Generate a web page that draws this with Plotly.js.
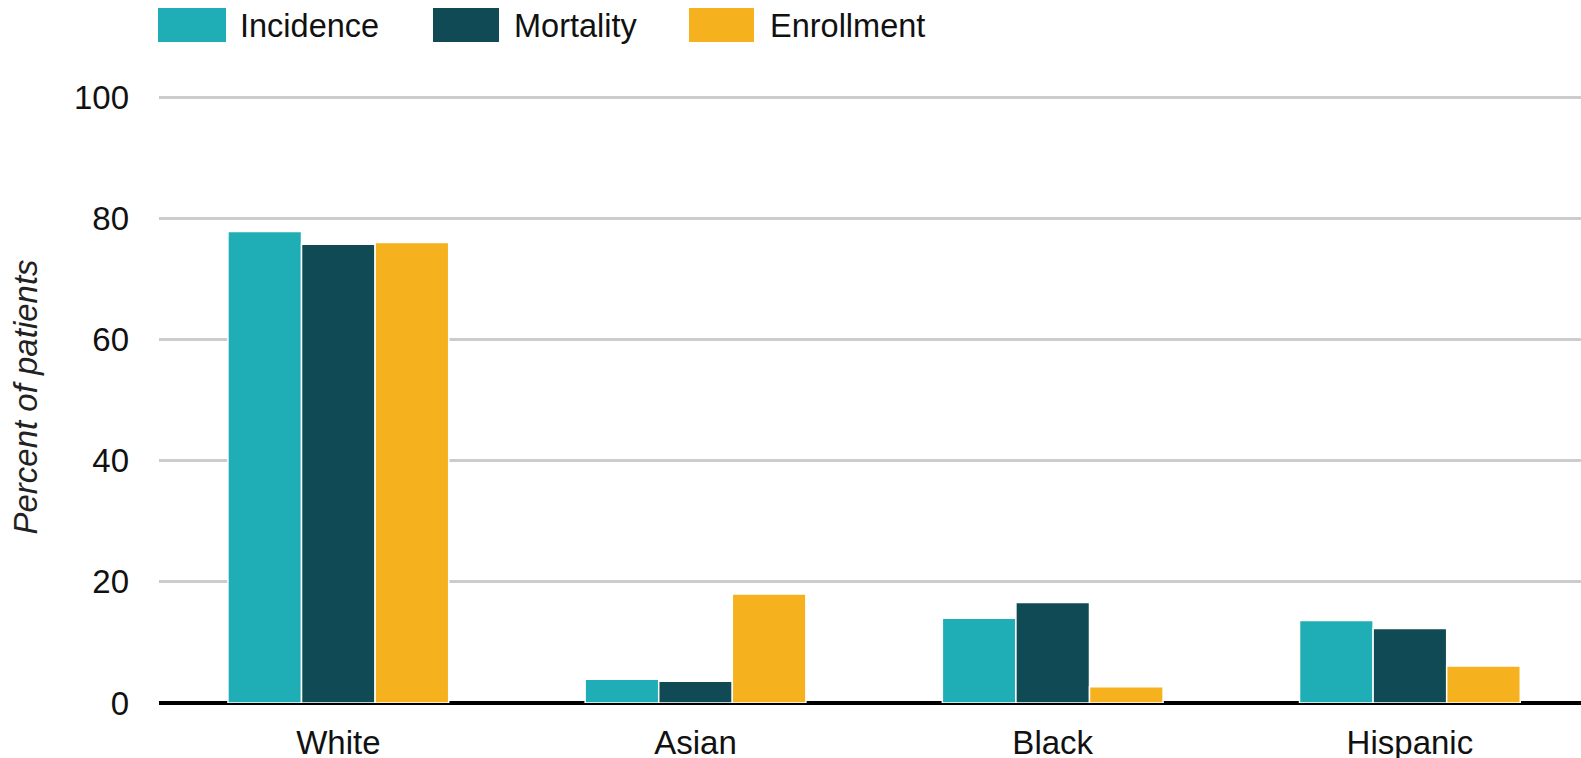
<!DOCTYPE html>
<html>
<head>
<meta charset="utf-8">
<script src="https://cdn.plot.ly/plotly-3.0.1.min.js"></script>
<style>html,body{margin:0;padding:0;background:#fff;}#chart{width:1581px;height:758px;}</style>
</head>
<body>
<div id="chart"></div>
<script>
const categories = ["White", "Asian", "Black", "Hispanic"];
const incidence = [77.8, 3.9, 14.0, 13.6];
const mortality = [75.7, 3.6, 16.6, 12.3];
const enrollment = [76.0, 18.0, 2.7, 6.1];
const seriesNames = ["Incidence", "Mortality", "Enrollment"];
const seriesColors = ["#20AEB6", "#0F4A55", "#F5B21E"];
const yTicks = [0, 20, 40, 60, 80, 100];

const seriesValues = [incidence, mortality, enrollment];
const traces = seriesValues.map((vals, i) => ({
  type: "bar",
  name: seriesNames[i],
  x: categories,
  y: vals,
  marker: {color: seriesColors[i], line: {color: "#ffffff", width: 1.5}},
  hoverinfo: "x+y+name"
}));

const W = 1581, H = 758, L = 159, R = 0, T = 91, B = 55;
const pw = W - L - R, ph = H - T - B;
const px = x => (x - L) / pw;
const py = y => (H - B - y) / ph;

const legendItems = [
  {sx0: 158, sx1: 226, tx: 238},
  {sx0: 433, sx1: 499, tx: 512},
  {sx0: 689, sx1: 754, tx: 768}
];
const shapes = legendItems.map((it, i) => ({
  type: "rect", xref: "paper", yref: "paper",
  x0: px(it.sx0), x1: px(it.sx1), y0: py(42), y1: py(8),
  fillcolor: seriesColors[i], line: {width: 0}
}));
const FONT = "Arial, Liberation Sans, sans-serif";
const annotations = legendItems.map((it, i) => ({
  xref: "paper", yref: "paper", x: px(it.tx), y: py(26),
  xanchor: "left", yanchor: "middle", showarrow: false,
  text: seriesNames[i],
  font: {family: FONT, size: 32.5, color: "#111"}
}));

const layout = {
  width: W, height: H,
  margin: {l: L, r: R, t: T, b: B, pad: 0},
  paper_bgcolor: "#fff", plot_bgcolor: "#fff",
  showlegend: false,
  barmode: "group",
  bargap: 0.382,
  bargroupgap: 0,
  font: {family: FONT, size: 33, color: "#111"},
  xaxis: {
    type: "category",
    range: [-0.502, 3.479],
    showgrid: false, zeroline: false, showline: false,
    ticks: "", ticklabelstandoff: 17,
    tickfont: {size: 33, color: "#111"}
  },
  yaxis: {
    range: [0, 101],
    tickvals: yTicks,
    ticktext: yTicks.map(String),
    showgrid: true, gridcolor: "#CCCCCC", gridwidth: 3,
    zeroline: true, zerolinecolor: "#000", zerolinewidth: 4,
    showline: false, ticks: "", ticklabelstandoff: 29,
    tickfont: {size: 33, color: "#111"},
    title: {text: "<i>Percent of patients</i>", standoff: 26,
            font: {size: 33, color: "#222"}},
    automargin: false
  },
  shapes: shapes,
  annotations: annotations
};

Plotly.newPlot("chart", traces, layout, {displayModeBar: false, staticPlot: true});
</script>
</body>
</html>
